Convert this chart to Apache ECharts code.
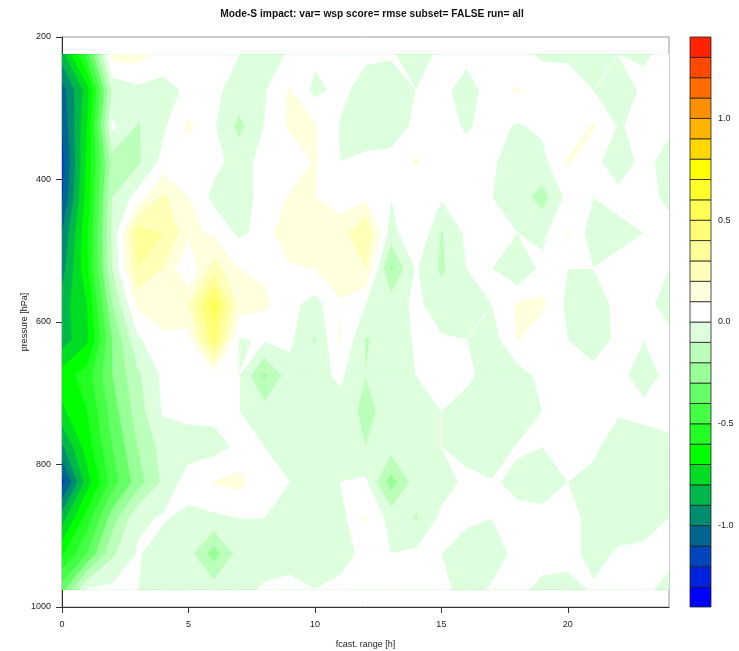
<!DOCTYPE html>
<html><head><meta charset="utf-8">
<script src="https://cdn.jsdelivr.net/npm/echarts@6/dist/echarts.min.js"></script>
<style>html,body{margin:0;padding:0;background:#fff}#chart{width:739px;height:651px}</style>
</head><body><div id="chart"></div>
<script>
// ---- data ----
const forecastHours = [0,1,2,3,4,5,6,7,8,9,10,11,12,13,14,15,16,17,18,19,20,21,22,23,24];
const pressureLevels = [225,275,325,375,425,475,525,575,625,675,725,775,825,875,925,975];
// impact values per pressure level (one value per forecast hour)
const p225 = [-0.85,-0.45,0.14,0.14,0.06,0.03,0.02,0.00,-0.04,0.01,0.02,0.03,0.02,0.01,-0.04,0.02,0.03,0.03,0.02,-0.01,-0.01,-0.05,0.00,-0.01,0.02];
const p275 = [-1.05,-0.75,-0.08,-0.03,-0.04,0.02,0.02,-0.04,-0.01,0.11,-0.03,0.03,-0.05,-0.06,0.00,0.03,-0.05,0.05,0.11,0.04,0.03,0.00,-0.06,0.02,0.03];
const p325 = [-1.10,-0.70,0.02,-0.11,-0.02,0.12,0.01,-0.13,0.00,0.12,0.11,-0.01,-0.05,-0.05,0.02,0.03,-0.01,0.03,-0.01,0.02,0.03,0.11,-0.01,0.03,0.02];
const p375 = [-1.15,-0.68,-0.15,-0.12,0.03,0.04,0.03,-0.04,0.03,0.00,0.11,0.00,0.02,0.03,0.11,0.03,0.03,0.01,-0.04,-0.03,0.11,0.03,-0.06,0.03,-0.04];
const p425 = [-1.12,-0.66,-0.10,0.04,0.22,0.10,-0.03,-0.04,0.03,0.11,0.10,0.05,0.08,0.00,0.03,0.01,0.10,0.00,-0.05,-0.14,0.03,0.00,0.03,0.03,-0.02];
const p475 = [-1.00,-0.62,-0.08,0.35,0.30,0.13,0.08,-0.02,0.03,0.20,0.12,0.15,0.30,-0.05,0.105,-0.11,0.02,0.03,0.00,-0.03,0.11,-0.06,-0.03,0.00,0.03];
const p525 = [-0.95,-0.62,-0.10,0.30,0.20,-0.01,0.25,0.10,0.08,0.08,0.10,0.15,0.20,-0.22,0.01,-0.12,0.00,0.00,-0.10,0.03,0.00,0.00,0.03,0.03,0.00];
const p575 = [-0.85,-0.70,-0.20,0.12,0.15,0.20,0.55,0.15,0.12,0.03,-0.04,0.09,0.00,-0.05,0.02,-0.05,-0.04,0.00,0.11,0.12,-0.03,-0.04,0.02,0.03,-0.04];
const p625 = [-0.85,-0.72,-0.30,-0.02,0.08,0.05,0.45,-0.01,0.01,0.02,-0.11,0.11,-0.11,-0.05,0.01,0.01,0.00,-0.05,0.105,0.03,0.00,-0.05,0.02,0.00,0.03];
const p675 = [-0.66,-0.55,-0.30,-0.12,0.02,0.03,0.05,0.00,-0.22,-0.04,-0.04,0.02,-0.10,-0.06,0.00,0.02,0.02,-0.04,-0.05,0.03,0.03,0.03,0.03,-0.05,0.03];
const p725 = [-0.72,-0.60,-0.35,-0.15,0.01,0.03,0.03,0.00,-0.06,-0.01,-0.04,-0.04,-0.13,-0.06,-0.04,0.00,-0.04,-0.05,-0.10,0.00,0.03,0.03,0.01,0.03,0.03];
const p775 = [-0.92,-0.65,-0.40,-0.20,-0.06,-0.05,-0.04,0.02,0.00,-0.03,-0.04,-0.05,-0.10,-0.06,-0.04,0.00,-0.03,-0.10,0.01,0.00,0.03,0.02,-0.05,-0.05,-0.02];
const p825 = [-1.15,-0.75,-0.45,-0.25,-0.08,0.05,0.105,0.13,0.04,0.00,-0.03,0.00,0.02,-0.25,-0.05,-0.04,0.02,0.01,-0.02,-0.05,0.00,-0.03,-0.06,-0.06,-0.05];
const p875 = [-0.85,-0.55,-0.25,-0.02,0.01,-0.03,-0.02,0.00,0.00,-0.04,-0.04,-0.04,0.11,-0.04,-0.11,0.02,0.02,0.00,0.02,0.03,0.02,-0.02,-0.04,-0.04,0.00];
const p925 = [-0.62,-0.40,-0.12,0.01,-0.05,-0.06,-0.25,-0.05,-0.04,-0.03,-0.03,-0.03,0.02,0.00,0.02,0.00,-0.05,-0.05,0.03,0.03,0.03,-0.03,0.01,0.02,0.03];
const p975 = [-0.35,0.01,0.02,0.00,-0.03,-0.04,-0.05,-0.03,0.01,0.02,0.00,0.02,0.01,0.00,0.02,0.02,-0.03,0.01,0.02,-0.02,-0.03,0.01,0.02,0.02,-0.03];
const impactRows = [p225,p275,p325,p375,p425,p475,p525,p575,p625,p675,p725,p775,p825,p875,p925,p975];

const contourLevels = [-1.4,-1.3,-1.2,-1.1,-1.0,-0.9,-0.8,-0.7,-0.6,-0.5,-0.4,-0.3,-0.2,-0.1,0.0,0.1,0.2,0.3,0.4,0.5,0.6,0.7,0.8,0.9,1.0,1.1,1.2,1.3,1.4];
const colorbarTicks = [-1.0,-0.5,0.0,0.5,1.0];
const xTicks = [0,5,10,15,20];
const yTicks = [200,400,600,800,1000];
const titleText = 'Mode-S impact: var= wsp score= rmse subset= FALSE run= all';

// ---- styles ----
const bandColors = ['#0000FF','#0022DD','#0044BB','#006690','#008C6E','#00B84A','#00DD22','#00FF00',
  '#22FF22','#44FF44','#66FF66','#99FF99','#BBFFBB','#DDFFDD','#FFFFFF','#FFFFDD','#FFFFB8','#FFFF99',
  '#FFFF77','#FFFF55','#FFFF2A','#FFFF00','#FFD800','#FFB400','#FF9000','#FF6C00','#FF4800','#FF2400'];
const FONT = 'Liberation Sans, Arial, sans-serif';
const TXT = '#222';

// Clip a polygon (vertices [x, p, value]) to the half-space value >= c
function clipAbove(poly, c) {
  const out = [];
  for (let k = 0; k < poly.length; k++) {
    const A = poly[k], B = poly[(k + 1) % poly.length];
    const ain = A[2] >= c, bin = B[2] >= c;
    if (ain !== bin) {
      const t = (c - A[2]) / (B[2] - A[2]);
      out.push([A[0] + t * (B[0] - A[0]), A[1] + t * (B[1] - A[1]), c]);
    }
    if (bin) out.push(B);
  }
  return out;
}

function renderLayer(params, api) {
  const k = api.value(2);
  const lo = contourLevels[k];
  const color = bandColors[k];
  const children = [];
  for (let j = 0; j < pressureLevels.length - 1; j++) {
    for (let i = 0; i < forecastHours.length - 1; i++) {
      const x0 = forecastHours[i], x1 = forecastHours[i + 1];
      const q0 = pressureLevels[j], q1 = pressureLevels[j + 1];
      const quad = [[x0, q0, impactRows[j][i]], [x1, q0, impactRows[j][i + 1]],
                    [x1, q1, impactRows[j + 1][i + 1]], [x0, q1, impactRows[j + 1][i]]];
      const vals = quad.map(q => q[2]);
      if (Math.max(...vals) < lo) continue;
      const poly = Math.min(...vals) >= lo ? quad : clipAbove(quad, lo);
      if (poly.length < 3) continue;
      children.push({
        type: 'polygon',
        shape: { points: poly.map(q => api.coord([q[0], q[1]])) },
        style: { fill: color, stroke: color, lineWidth: 0.7 }
      });
    }
  }
  return { type: 'group', children };
}

function renderBox(params, api) {
  const k = api.value(2);
  const a = api.coord([0, contourLevels[k]]);
  const b = api.coord([1, contourLevels[k + 1]]);
  return {
    type: 'rect',
    shape: { x: a[0], y: b[1], width: b[0] - a[0], height: a[1] - b[1] },
    style: { fill: bandColors[k], stroke: '#222', lineWidth: 0.8 }
  };
}

const layerData = bandColors.map((c, k) => ({ value: [12, 600, k] }));
const boxData = bandColors.map((c, k) => ({ value: [0.5, 0, k] }));

const chart = echarts.init(document.getElementById('chart'), null, { renderer: 'canvas' });
chart.setOption({
  animation: false,
  backgroundColor: '#fff',
  textStyle: { fontFamily: FONT },
  graphic: [{
    type: 'text', x: 372, y: 14, scaleX: 0.93, silent: true,
    style: { text: titleText, x: 0, y: 0, align: 'center', verticalAlign: 'middle',
             font: 'bold 11px "Liberation Sans", Arial, sans-serif', fill: '#111' }
  }],
  grid: [
    { left: 62, right: 70, top: 37, bottom: 44, show: true, borderColor: '#999', borderWidth: 1,
      backgroundColor: 'transparent', containLabel: false, outerBoundsMode: 'none' },
    { left: 690, width: 21, top: 37, bottom: 44, containLabel: false, outerBoundsMode: 'none' }
  ],
  xAxis: [
    {
      type: 'value', gridIndex: 0, min: 0, max: 24,
      name: 'fcast. range [h]', nameLocation: 'middle', nameGap: 33, nameMoveOverlap: false,
      nameTextStyle: { fontSize: 9, color: TXT, fontFamily: FONT },
      axisLine: { show: true, onZero: false, lineStyle: { color: '#333', width: 1 } },
      axisTick: { show: true, length: 6, customValues: xTicks, lineStyle: { color: '#333' } },
      axisLabel: { customValues: xTicks, fontSize: 9, color: TXT, margin: 13, fontFamily: FONT,
                   formatter: v => String(v) },
      splitLine: { show: false }
    },
    { type: 'value', gridIndex: 1, min: 0, max: 1, show: false }
  ],
  yAxis: [
    {
      type: 'value', gridIndex: 0, min: 200, max: 1000, interval: 200, inverse: true,
      name: 'pressure [hPa]', nameLocation: 'middle', nameGap: 33, nameRotate: 90, nameMoveOverlap: false,
      nameTextStyle: { fontSize: 9, color: TXT, fontFamily: FONT },
      axisLine: { show: true, onZero: false, lineStyle: { color: '#333', width: 1 } },
      axisTick: { show: true, length: 6, customValues: yTicks, lineStyle: { color: '#333' } },
      axisLabel: { customValues: yTicks, fontSize: 9, color: TXT, margin: 11, fontFamily: FONT,
                   formatter: v => String(v) },
      splitLine: { show: false }
    },
    {
      type: 'value', gridIndex: 1, min: -1.4, max: 1.4, position: 'right',
      axisLine: { show: false },
      axisTick: { show: true, length: 5, customValues: colorbarTicks, lineStyle: { color: '#444' } },
      axisLabel: { customValues: colorbarTicks, fontSize: 9, color: TXT, margin: 7, fontFamily: FONT,
                   formatter: v => v.toFixed(1) },
      splitLine: { show: false }
    }
  ],
  series: [
    {
      type: 'custom', xAxisIndex: 0, yAxisIndex: 0, renderItem: renderLayer,
      data: layerData, clip: true, silent: true, z: 1
    },
    {
      type: 'custom', xAxisIndex: 1, yAxisIndex: 1, renderItem: renderBox,
      data: boxData, silent: true, z: 2
    }
  ]
});
</script></body></html>
